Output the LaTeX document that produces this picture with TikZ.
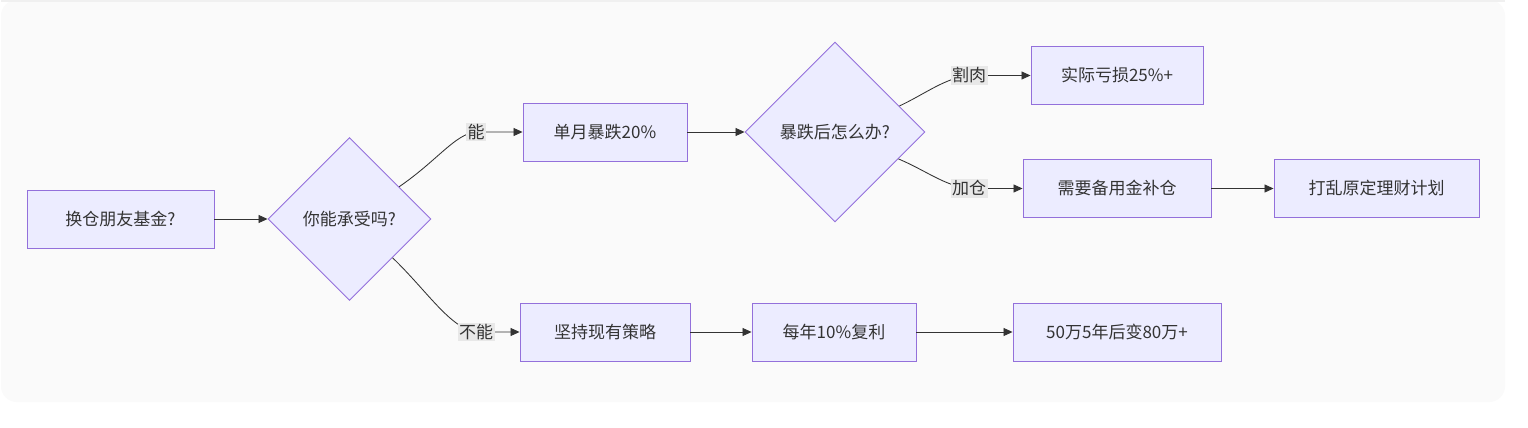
\documentclass[tikz,border=0pt]{standalone}
\usepackage{fontspec}
\setmainfont{Noto Sans CJK SC}
\usetikzlibrary{shapes.geometric,arrows.meta}
\definecolor{nodefill}{HTML}{ECECFF}
\definecolor{nodeline}{HTML}{9370DB}
\definecolor{txt}{HTML}{333333}
\definecolor{panel}{HTML}{FAFAFA}
\definecolor{paneltop}{HTML}{F0F0F0}
\definecolor{lblbg}{HTML}{E8E8E8}
\begin{document}
\begin{tikzpicture}[x=1pt,y=-1pt,
  txtfont/.style={text=txt,font=\fontsize{17}{20}\selectfont},
  box/.style={draw=nodeline,fill=nodefill,line width=0.9pt,minimum height=58pt,inner sep=0pt,txtfont},
  dec/.style={diamond,aspect=1,draw=nodeline,fill=nodefill,line width=0.9pt,inner sep=0pt,txtfont},
  edge/.style={draw=txt,line width=0.85pt,-{Triangle[length=9pt,width=8pt]}},
  lbl/.style={fill=lblbg,inner sep=1.5pt,txtfont}]
\useasboundingbox[fill=white] (0,0) rectangle (1528,428);
\fill[panel,rounded corners=16pt] (1,0) rectangle (1505,402);
\fill[paneltop] (1,0) rectangle (1505,2);
% nodes
\node[box,minimum width=187pt] (A) at (120.5,219) {换仓朋友基金?};
\node[dec,minimum width=163pt,minimum height=163pt] (B) at (349.5,219) {你能承受吗?};
\node[box,minimum width=164pt] (C) at (605,132) {单月暴跌20\%};
\node[dec,minimum width=180pt,minimum height=180pt] (D) at (835,132) {暴跌后怎么办?};
\node[box,minimum width=172pt] (E) at (1117,75.5) {实际亏损25\%+};
\node[box,minimum width=188pt] (F) at (1117,188.5) {需要备用金补仓};
\node[box,minimum width=205pt] (G) at (1376.5,188.5) {打乱原定理财计划};
\node[box,minimum width=170pt] (H) at (605,332) {坚持现有策略};
\node[box,minimum width=164pt] (I) at (834,332) {每年10\%复利};
\node[box,minimum width=208pt] (J) at (1117,332) {50万5年后变80万+};
% label points
\coordinate (p1) at (476,132);
\coordinate (p2) at (476,332);
\coordinate (p3) at (969,75.5);
\coordinate (p4) at (969,188.5);
% edges
\draw[edge] (A) -- (B);
\draw[edge] (B.33) .. controls (438,160) and (455,134) .. (p1) -- (C.west);
\draw[edge] (B.-42) .. controls (428,292) and (450,328) .. (p2) -- (H.west);
\draw[edge] (C) -- (D);
\draw[edge] (D.22) .. controls (925,94) and (945,78) .. (p3) -- (E.west);
\draw[edge] (D.-23) .. controls (925,170) and (945,186) .. (p4) -- (F.west);
\draw[edge] (F) -- (G);
\draw[edge] (H) -- (I);
\draw[edge] (I) -- (J);
% labels
\node[lbl] (l1) at (p1) {能};
\node[lbl] (l2) at (p2) {不能};
\node[lbl] (l3) at (p3) {割肉};
\node[lbl] (l4) at (p4) {加仓};
\end{tikzpicture}
\end{document}
